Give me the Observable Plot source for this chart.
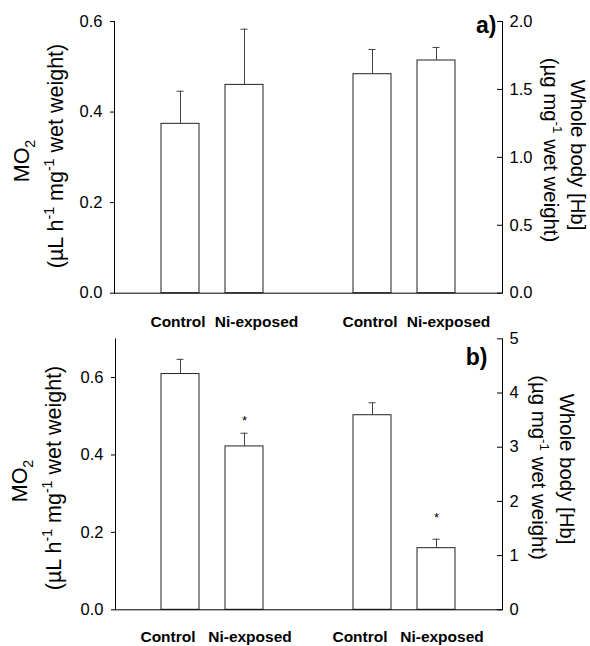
<!DOCTYPE html>
<html>
<head>
<meta charset="utf-8">
<script src="https://cdn.jsdelivr.net/npm/d3@7"></script>
<script src="https://cdn.jsdelivr.net/npm/@observablehq/plot@0.6"></script>
<style>
  body { margin: 0; background: #fff; }
  #chart { width: 590px; }
  #chart svg { display: block; overflow: visible; }
  #chart text { white-space: pre; }
</style>
</head>
<body>
<div id="chart"></div>
<script>
// ---------- data ----------
const groups = ["Control", "Ni-exposed"];
const measures = ["MO2", "Hb"];

// panel a
const aMO2 = [0.374, 0.460];
const aMO2Err = [0.072, 0.123];
const aHb = [1.612, 1.713];
const aHbErr = [0.182, 0.096];
const aSig = ["", ""];
const aLeftTicks = [0, 0.2, 0.4, 0.6];
const aRightTicks = [0, 0.5, 1.0, 1.5, 2.0];
const aLeftMax = 0.6;
const aRightMax = 2.0;

// panel b
const bMO2 = [0.609, 0.422];
const bMO2Err = [0.038, 0.034];
const bHb = [3.59, 1.137];
const bHbErr = [0.23, 0.165];
const bSig = ["", "*"];
const bLeftTicks = [0, 0.2, 0.4, 0.6];
const bRightTicks = [0, 1, 2, 3, 4, 5];
const bLeftMax = 0.7;
const bRightMax = 5;

const FONT = "Arial, 'Liberation Sans', Helvetica, sans-serif";
const xDomain = ["MO2|Control", "MO2|Ni-exposed", "gap", "Hb|Control", "Hb|Ni-exposed"];

function rowsFor(mo2, mo2Err, hb, hbErr, sig, factor) {
  const rows = [];
  groups.forEach((g, i) => rows.push({key: "MO2|" + g, group: g, measure: "MO2",
    v: mo2[i], top: mo2[i] + mo2Err[i], sig: sig[i]}));
  groups.forEach((g, i) => rows.push({key: "Hb|" + g, group: g, measure: "Hb",
    v: hb[i] * factor, top: (hb[i] + hbErr[i]) * factor, sig: sig[i]}));
  return rows;
}

function panel(cfg) {
  const factor = cfg.leftMax / cfg.rightMax;
  const rows = rowsFor(cfg.mo2, cfg.mo2Err, cfg.hb, cfg.hbErr, cfg.sig, factor);
  const innerW = cfg.width - cfg.marginLeft - cfg.marginRight;
  const rightTicksScaled = cfg.rightTicks.map(t => t * factor);
  const svg = Plot.plot({
    width: cfg.width,
    height: cfg.height,
    marginTop: cfg.marginTop,
    marginBottom: cfg.marginBottom,
    marginLeft: cfg.marginLeft,
    marginRight: cfg.marginRight,
    style: {fontFamily: FONT, fontSize: "16.5px", color: "black", background: "transparent", overflow: "visible"},
    x: {type: "band", domain: xDomain, paddingInner: 0.4, paddingOuter: 0.7, align: 0.5, axis: null},
    y: {domain: [0, cfg.leftMax]},
    marks: [
      Plot.barY(rows, {x: "key", y1: 0, y2: "v", fill: "white", stroke: "#222", strokeWidth: 1}),
      Plot.ruleX(rows, {x: "key", y1: "v", y2: "top", stroke: "#444", strokeWidth: 1}),
      Plot.tickY(rows, {x: "key", y: "top", stroke: "#444", strokeWidth: 1, insetLeft: 15.5, insetRight: 15.5}),
      Plot.ruleY([0], {stroke: "black", strokeWidth: 1}),
      Plot.frame({anchor: "left", stroke: "black"}),
      Plot.frame({anchor: "right", stroke: "black"}),
      Plot.axisY(cfg.leftTicks, {anchor: "left", tickSize: 4, tickPadding: 8,
        tickFormat: d3.format(".1f"), label: null, fontSize: 16.5}),
      Plot.axisY(rightTicksScaled, {anchor: "right", tickSize: 0, tickPadding: 7,
        tickFormat: d => d3.format(cfg.rightFmt)(d / factor), label: null, fontSize: 16.5}),
      Plot.ruleY(rightTicksScaled, {insetLeft: innerW - 5, stroke: "black", strokeWidth: 1}),
      // significance stars
      Plot.text(rows.filter(d => d.sig && d.measure === "MO2"), {x: "key", y: "top", text: "sig",
        lineAnchor: "bottom", dy: cfg.starDyMO2, fontSize: 13}),
      Plot.text(rows.filter(d => d.sig && d.measure === "Hb"), {x: "key", y: "top", text: "sig",
        lineAnchor: "bottom", dy: cfg.starDyHb, fontSize: 13}),
      // category labels
      Plot.text(rows.filter(d => d.group === "Control"), {x: "key", y: () => 0, text: "group",
        lineAnchor: "bottom", dy: cfg.labelDy, dx: cfg.controlDx, fontWeight: "bold", fontSize: 15.5}),
      Plot.text(rows.filter(d => d.group === "Ni-exposed"), {x: "key", y: () => 0, text: "group",
        lineAnchor: "bottom", dy: cfg.labelDy, dx: cfg.niDx, fontWeight: "bold", fontSize: 15.5}),
      // panel letter
      Plot.text([cfg.letter], {frameAnchor: "top-right", text: d => d, textAnchor: "end",
        lineAnchor: "bottom", dx: cfg.letterDx, dy: cfg.letterDy, fontWeight: "bold", fontSize: 23})
    ]
  });
  // axis titles with sub/superscripts
  const s = d3.select(svg);
  function title(x, y, rot, size, parts) {
    const t = s.append("text")
      .attr("transform", `translate(${x},${y}) rotate(${rot})`)
      .attr("text-anchor", "middle")
      .attr("font-family", FONT)
      .attr("font-size", size)
      .attr("fill", "black");
    let shift = 0;
    parts.forEach(([txt, kind]) => {
      const target = kind === "sup" ? -0.42 * size : kind === "sub" ? 0.28 * size : 0;
      const sp = t.append("tspan").text(txt).attr("dy", target - shift);
      if (kind) sp.attr("font-size", size * 0.66);
      shift = target;
    });
  }
  const L = cfg.titles;
  title(L.l1x, L.l1y, -90, 21.5, [["MO", ""], ["2", "sub"]]);
  title(L.l2x, L.l2y, -90, 21.5, [["(\u00b5L h", ""], ["-1", "sup"], [" mg", ""], ["-1", "sup"], [" wet weight)", ""]]);
  title(L.r1x, L.r1y, 90, 20.4, [["Whole body [Hb]", ""]]);
  title(L.r2x, L.r2y, 90, 20.4, [["(\u00b5g mg", ""], ["-1", "sup"], [" wet weight)", ""]]);
  return svg;
}

const chart = document.getElementById("chart");
chart.append(panel({
  width: 590, height: 333, marginTop: 21, marginBottom: 40.3, marginLeft: 114, marginRight: 88,
  mo2: aMO2, mo2Err: aMO2Err, hb: aHb, hbErr: aHbErr, sig: aSig,
  leftTicks: aLeftTicks, rightTicks: aRightTicks, leftMax: aLeftMax, rightMax: aRightMax, rightFmt: ".1f",
  starDyMO2: -8, starDyHb: -17,
  labelDy: 33.5, controlDx: -2.5, niDx: 12,
  letter: "a)", letterDx: -6, letterDy: 11,
  titles: {l1x: 28.5, l1y: 161, l2x: 62.7, l2y: 156, r1x: 570.5, r1y: 155, r2x: 544, r2y: 150}
}));
chart.append(panel({
  width: 590, height: 313, marginTop: 5.3, marginBottom: 36.7, marginLeft: 115, marginRight: 88,
  mo2: bMO2, mo2Err: bMO2Err, hb: bHb, hbErr: bHbErr, sig: bSig,
  leftTicks: bLeftTicks, rightTicks: bRightTicks, leftMax: bLeftMax, rightMax: bRightMax, rightFmt: "d",
  starDyMO2: -8, starDyHb: -17,
  labelDy: 32, controlDx: -12.5, niDx: 5.5,
  letter: "b)", letterDx: -15, letterDy: 26,
  titles: {l1x: 26.5, l1y: 148, l2x: 61, l2y: 145, r1x: 560, r1y: 136, r2x: 531.5, r2y: 134.5}
}));
</script>
</body>
</html>
